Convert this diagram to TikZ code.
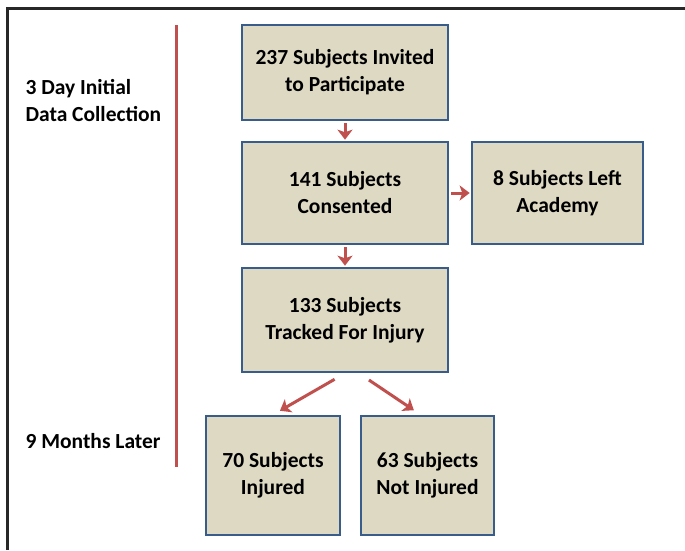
\documentclass[tikz,border=0pt]{standalone}
\usepackage{fontspec}
\setmainfont{Carlito}
\usepackage{tikz}
\usetikzlibrary{arrows.meta,positioning}
\definecolor{flowtan}{RGB}{221,217,195}
\definecolor{flowblue}{RGB}{56,93,138}
\definecolor{flowred}{RGB}{192,80,77}
\definecolor{framegray}{RGB}{40,40,40}
\tikzstyle{arrow} = [line width=3pt,-{Stealth[length=10pt,width=15pt,inset=2.5pt]},color=flowred]
\tikzstyle{flowbox} = [rectangle, minimum width=206pt, minimum height=102pt, text centered, align=center, draw=flowblue, fill=flowtan, line width=2.6pt, font=\fontsize{21.5}{27}\selectfont\bfseries]
\tikzstyle{phase} = [anchor=west, align=left, font=\fontsize{21.5}{27}\selectfont\bfseries]

\begin{document}
\begin{tikzpicture}[x=1pt, y=-1pt]
\useasboundingbox (0,0) rectangle (685,550);
% frame
\draw[framegray, line width=3pt] (7,550) -- (7,8) -- (685,8);
% time line
\draw[flowred, line width=3pt] (176,25) -- (176,467);
\node (initial) [phase] at (22,100.5) {3 Day Initial\\Data Collection};
\node (later) [phase] at (22,441) {9 Months Later};

% Flow boxes
\node (invited) [flowbox, minimum height=95pt] at (345,72.5) {237 Subjects Invited\\to Participate};
\node (consented) [flowbox] at (345,193) {141 Subjects\\Consented};
\node (leftacad) [flowbox, right of=consented, node distance=212.5pt, minimum width=171pt] {8 Subjects Left\\Academy};
\node (tracked) [flowbox, minimum height=104pt] at (345,320) {133 Subjects\\Tracked For Injury};
\node (injured) [flowbox, minimum width=134pt, minimum height=119pt] at (273,475.5) {70 Subjects\\Injured};
\node (notinjured) [flowbox, minimum width=133pt, minimum height=119pt] at (427.5,475.5) {63 Subjects\\Not Injured};

\draw[arrow, shorten <=2pt, shorten >=1pt] (invited) -- (consented);
\draw[arrow, shorten <=2pt, shorten >=1pt] (consented) -- (leftacad);
\draw[arrow, shorten <=2pt, shorten >=1pt] (consented) -- (tracked);
\draw[arrow, shorten <=12pt, shorten >=8pt] (tracked.south) -- (injured.north);
\draw[arrow, shorten <=12pt, shorten >=8pt] ([xshift=14pt]tracked.south) -- ([xshift=-7pt]notinjured.north);
\end{tikzpicture}
\end{document}
